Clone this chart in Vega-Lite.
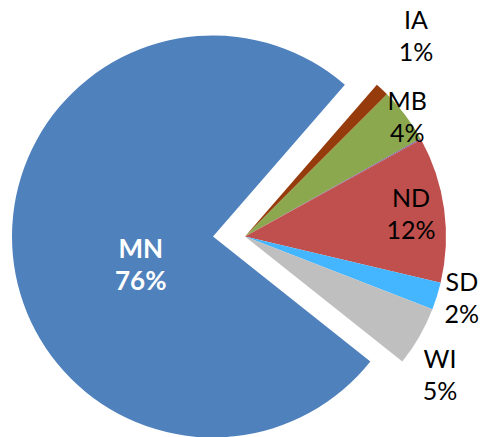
{
  "$schema": "https://vega.github.io/schema/vega-lite/v6.json",
  "width": 481,
  "height": 437,
  "autosize": {"type": "fit", "contains": "padding"},
  "padding": 0,
  "background": "white",
  "config": {"view": {"stroke": null}},
  "data": {"values": [
    {"state": "IA", "value": 1.1, "order": 1},
    {"state": "MB", "value": 4.4, "order": 2},
    {"state": "Other", "value": 0.1, "order": 3},
    {"state": "ND", "value": 11.7, "order": 4},
    {"state": "SD", "value": 2.2, "order": 5},
    {"state": "WI", "value": 4.8, "order": 6},
    {"state": "MN", "value": 75.7, "order": 7}
  ]},
  "transform": [
    {"stack": "value", "groupby": [], "sort": [{"field": "order", "order": "ascending"}], "as": ["v0", "v1"]},
    {"calculate": "(datum.v0 + datum.v1) / 2", "as": "mid"},
    {"calculate": "datum.state + '\\n' + format(datum.value / 100, '.0%')", "as": "label"}
  ],
  "layer": [
    {
      "transform": [{"filter": "datum.state == 'MN'"}],
      "mark": {"type": "arc", "radius": 201, "xOffset": -27.5, "yOffset": 18.5},
      "encoding": {
        "theta": {"field": "v0", "type": "quantitative", "stack": null, "scale": {"domain": [0, 100], "range": [0.7156, 6.9988]}},
        "theta2": {"field": "v1"},
        "color": {"field": "state", "type": "nominal", "legend": null, "scale": {"domain": ["IA", "MB", "Other", "ND", "SD", "WI", "MN"], "range": ["#953B0C", "#8CA84F", "#7B62A0", "#C0504D", "#43B6FF", "#BFBFBF", "#4F81BD"]}}
      }
    },
    {
      "transform": [{"filter": "datum.state != 'MN'"}],
      "mark": {"type": "arc", "radius": 201, "xOffset": 4.5, "yOffset": 18.5},
      "encoding": {
        "theta": {"field": "v0", "type": "quantitative", "stack": null, "scale": {"domain": [0, 100], "range": [0.7156, 6.9988]}},
        "theta2": {"field": "v1"},
        "color": {"field": "state", "type": "nominal", "legend": null}
      }
    },
    {
      "transform": [{"filter": "datum.state == 'MN'"}],
      "mark": {"type": "text", "radius": 76.6, "xOffset": -27.5, "yOffset": 18.5, "dx": 4, "dy": 6, "lineBreak": "\n", "lineHeight": 32, "font": "Lato", "fontSize": 26, "fontWeight": "bold", "color": "white", "align": "center", "baseline": "middle"},
      "encoding": {
        "theta": {"field": "mid", "type": "quantitative", "stack": null, "scale": {"domain": [0, 100], "range": [0.7156, 6.9988]}},
        "text": {"field": "label"}
      }
    },
    {
      "transform": [{"filter": "datum.state == 'IA'"}],
      "mark": {"type": "text", "radius": 264, "xOffset": 4.5, "yOffset": 18.5, "dx": -9, "dy": -22, "lineBreak": "\n", "lineHeight": 32, "font": "Lato", "fontSize": 25, "color": "black", "align": "center", "baseline": "middle"},
      "encoding": {
        "theta": {"field": "mid", "type": "quantitative", "stack": null, "scale": {"domain": [0, 100], "range": [0.7156, 6.9988]}},
        "text": {"field": "label"}
      }
    },
    {
      "transform": [{"filter": "datum.state == 'MB'"}],
      "mark": {"type": "text", "radius": 201, "xOffset": 4.5, "yOffset": 18.5, "dx": 2, "dy": -13, "lineBreak": "\n", "lineHeight": 32, "font": "Lato", "fontSize": 25, "color": "black", "align": "center", "baseline": "middle"},
      "encoding": {
        "theta": {"field": "mid", "type": "quantitative", "stack": null, "scale": {"domain": [0, 100], "range": [0.7156, 6.9988]}},
        "text": {"field": "label"}
      }
    },
    {
      "transform": [{"filter": "datum.state == 'ND'"}],
      "mark": {"type": "text", "radius": 167.5, "xOffset": 4.5, "yOffset": 18.5, "dx": 0, "dy": -15, "lineBreak": "\n", "lineHeight": 32, "font": "Lato", "fontSize": 25, "color": "black", "align": "center", "baseline": "middle"},
      "encoding": {
        "theta": {"field": "mid", "type": "quantitative", "stack": null, "scale": {"domain": [0, 100], "range": [0.7156, 6.9988]}},
        "text": {"field": "label"}
      }
    },
    {
      "transform": [{"filter": "datum.state == 'SD'"}],
      "mark": {"type": "text", "radius": 226, "xOffset": 4.5, "yOffset": 18.5, "dx": 1, "dy": -20, "lineBreak": "\n", "lineHeight": 32, "font": "Lato", "fontSize": 25, "color": "black", "align": "center", "baseline": "middle"},
      "encoding": {
        "theta": {"field": "mid", "type": "quantitative", "stack": null, "scale": {"domain": [0, 100], "range": [0.7156, 6.9988]}},
        "text": {"field": "label"}
      }
    },
    {
      "transform": [{"filter": "datum.state == 'WI'"}],
      "mark": {"type": "text", "radius": 238, "xOffset": 4.5, "yOffset": 18.5, "dx": -11.5, "dy": 5, "lineBreak": "\n", "lineHeight": 32, "font": "Lato", "fontSize": 25, "color": "black", "align": "center", "baseline": "middle"},
      "encoding": {
        "theta": {"field": "mid", "type": "quantitative", "stack": null, "scale": {"domain": [0, 100], "range": [0.7156, 6.9988]}},
        "text": {"field": "label"}
      }
    }
  ]
}
